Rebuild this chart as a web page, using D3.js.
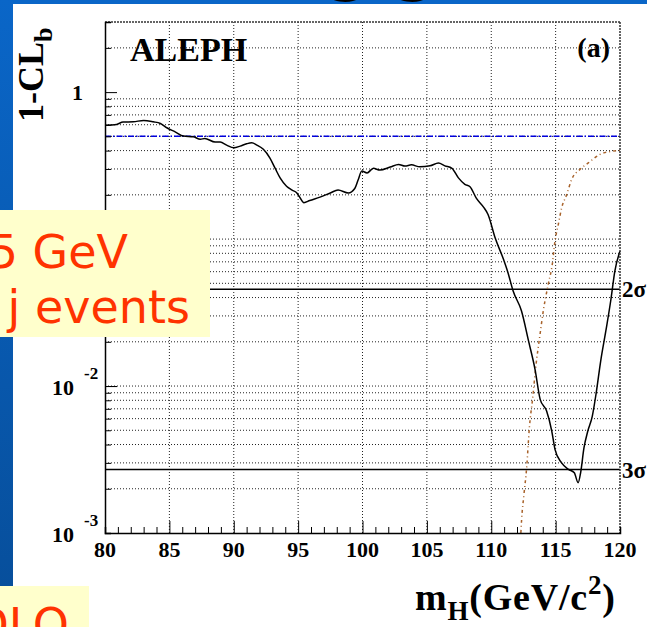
<!DOCTYPE html>
<html>
<head>
<meta charset="utf-8">
<script src="https://cdn.jsdelivr.net/npm/d3@7"></script>
<style>
  html, body { margin: 0; padding: 0; background: #ffffff; }
  svg { display: block; }
</style>
</head>
<body>
<svg id="chart" width="647" height="627"></svg>
<script>
// Observed 1-CL_b versus Higgs mass hypothesis (GeV/c^2)
const massObs = [80.0, 80.9, 81.4, 82.2, 83.0, 83.75, 84.3, 84.8, 85.45, 86.1,
  86.85, 87.4, 87.75, 88.55, 88.95, 89.45, 90.0, 90.5, 91.0, 91.4,
  91.8, 92.3, 92.8, 93.2, 93.6, 94.1, 94.5, 94.9, 95.15, 95.45,
  95.9, 96.7, 97.5, 98.1, 98.9, 99.4, 99.65, 99.95, 100.35, 100.85,
  101.35, 102.15, 102.8, 103.3, 103.8, 104.45, 105.25, 105.9, 106.4, 106.95,
  107.45, 107.95, 108.35, 108.85, 109.4, 109.75, 110.3, 110.95, 111.3, 111.7,
  112.35, 112.9, 113.4, 113.8, 114.3, 114.7, 114.95, 115.45, 116.0, 116.45,
  116.75, 116.95, 117.2, 117.5, 117.85, 118.15, 118.5, 118.9, 119.3, 119.6, 120.0];
const clbObs = [0.594, 0.603, 0.625, 0.628, 0.642, 0.628, 0.612, 0.572, 0.537, 0.502,
  0.497, 0.477, 0.484, 0.457, 0.457, 0.436, 0.418, 0.429, 0.445, 0.452,
  0.436, 0.408, 0.357, 0.305, 0.261, 0.229, 0.216, 0.206, 0.191, 0.177,
  0.183, 0.193, 0.206, 0.216, 0.206, 0.221, 0.251, 0.290, 0.282, 0.303,
  0.295, 0.309, 0.322, 0.314, 0.320, 0.310, 0.315, 0.329, 0.315, 0.303,
  0.261, 0.236, 0.227, 0.189, 0.165, 0.147, 0.102, 0.0728, 0.0590, 0.0443,
  0.0324, 0.0202, 0.0130, 0.00812, 0.00676, 0.00494, 0.00371, 0.00301, 0.00271, 0.00257,
  0.00220, 0.00260, 0.00379, 0.00494, 0.00625, 0.00896, 0.0148, 0.0237, 0.0391, 0.0606, 0.0828];

// Expected 1-CL_b for a signal at the tested mass
const massExp = [112.3, 112.36, 112.54, 112.75, 112.96, 113.22, 113.45, 113.79, 114.04, 114.43,
  114.74, 114.95, 115.21, 115.47, 115.86, 116.25, 116.89, 117.54, 118.45, 119.48, 120.0];
const clbExp = [0.001, 0.00124, 0.00183, 0.00278, 0.00520, 0.00832, 0.0133, 0.0225, 0.0324, 0.0494,
  0.0673, 0.0969, 0.126, 0.163, 0.201, 0.255, 0.298, 0.330, 0.377, 0.397, 0.400];

// Reference levels
const bkgMedian = 0.5;
const sigmaValues = [0.0455, 0.0027];
const sigmaLabels = ["2", "3"];

// Axis ticks
const xTicks = [80, 85, 90, 95, 100, 105, 110, 115, 120];
const xMinorTicks = d3.range(80, 121, 1);
const yMajor = [1, 0.01, 0.001];
const yMajorBase = ["1", "10", "10"];
const yMajorExp = ["", "-2", "-3"];
const yMinor = [2, 0.9, 0.8, 0.7, 0.6, 0.5, 0.4, 0.3, 0.2, 0.1,
  0.09, 0.08, 0.07, 0.06, 0.05, 0.04, 0.03, 0.02, 0.01,
  0.009, 0.008, 0.007, 0.006, 0.005, 0.004, 0.003, 0.002];

const svg = d3.select("#chart");
const serif = "'Liberation Serif', 'Times New Roman', serif";
const sans = "'DejaVu Sans', Verdana, sans-serif";

const plot = { left: 105, right: 620, top: 22, bottom: 533 };
const x = d3.scaleLinear().domain([80, 120]).range([plot.left, plot.right]);
const y = d3.scaleLog().domain([0.001, 3]).range([plot.bottom, plot.top]);

// Slide background strips
const defs = svg.append("defs");
const grad = defs.append("linearGradient").attr("id", "slideBlue")
  .attr("x1", 0).attr("y1", 0).attr("x2", 0).attr("y2", 1);
grad.append("stop").attr("offset", "0%").attr("stop-color", "#0a66c8");
grad.append("stop").attr("offset", "100%").attr("stop-color", "#074f9c");
svg.append("rect").attr("x", 0).attr("y", 0).attr("width", 647).attr("height", 4).attr("fill", "#0a66c8");
svg.append("rect").attr("x", 0).attr("y", 0).attr("width", 13).attr("height", 586).attr("fill", "url(#slideBlue)");
// Lower edge of the slide title
svg.append("text").attr("x", 348).attr("y", -10).attr("text-anchor", "middle")
  .attr("font-family", sans).attr("font-weight", "bold").attr("font-size", 56).attr("fill", "#000").text("g");
svg.append("text").attr("x", 415).attr("y", -10).attr("text-anchor", "middle")
  .attr("font-family", sans).attr("font-weight", "bold").attr("font-size", 56).attr("fill", "#000").text("g");

const g = svg.append("g");

// Grid: vertical at major mass ticks, horizontal at every log step
g.append("g").selectAll("line").data(xTicks.slice(1, -1)).join("line")
  .attr("x1", d => x(d)).attr("x2", d => x(d))
  .attr("y1", plot.top).attr("y2", plot.bottom)
  .attr("stroke", "#222").attr("stroke-width", 1).attr("stroke-dasharray", "1,2");
g.append("g").selectAll("line").data(yMinor).join("line")
  .attr("x1", plot.left).attr("x2", plot.right)
  .attr("y1", d => y(d)).attr("y2", d => y(d))
  .attr("stroke", "#222").attr("stroke-width", 1).attr("stroke-dasharray", "1,2");

// 2 sigma / 3 sigma levels
g.append("g").selectAll("line").data(sigmaValues).join("line")
  .attr("x1", plot.left).attr("x2", plot.right)
  .attr("y1", d => y(d)).attr("y2", d => y(d))
  .attr("stroke", "#000").attr("stroke-width", 1.5);

// Median background expectation
g.append("line")
  .attr("x1", plot.left).attr("x2", plot.right)
  .attr("y1", y(bkgMedian)).attr("y2", y(bkgMedian))
  .attr("stroke", "#0000dd").attr("stroke-width", 1.5).attr("stroke-dasharray", "6,2,1.5,2");

const line = d3.line().x(d => x(d[0])).y(d => y(d[1])).curve(d3.curveMonotoneX);

// Signal expectation
g.append("path").datum(d3.zip(massExp, clbExp))
  .attr("d", line).attr("fill", "none")
  .attr("stroke", "#a8622a").attr("stroke-width", 1.5).attr("stroke-dasharray", "3,3,1,3");

// Observed
g.append("path").datum(d3.zip(massObs, clbObs))
  .attr("d", line).attr("fill", "none")
  .attr("stroke", "#000").attr("stroke-width", 1.5).attr("stroke-linejoin", "round");

// Frame
g.append("line").attr("x1", plot.left).attr("x2", plot.right).attr("y1", plot.top).attr("y2", plot.top)
  .attr("stroke", "#333").attr("stroke-width", 1.5).attr("stroke-dasharray", "2,1");
g.append("line").attr("x1", plot.right).attr("x2", plot.right).attr("y1", plot.top).attr("y2", plot.bottom)
  .attr("stroke", "#333").attr("stroke-width", 1.5).attr("stroke-dasharray", "2,1");

// Bottom axis with inward ticks
const xAxis = d3.axisBottom(x).tickValues(xMinorTicks).tickSize(-6).tickFormat("");
const xa = g.append("g").attr("transform", `translate(0,${plot.bottom})`).call(xAxis);
xa.select(".domain").attr("stroke", "#000").attr("stroke-width", 1.5);
xa.selectAll(".tick line").attr("stroke", "#000").attr("stroke-width", 1)
  .attr("y2", d => (d % 5 === 0 ? -12 : -6));
xa.selectAll(".tick").filter(d => d === 80 || d === 120).remove();

g.append("g").selectAll("text").data(xTicks).join("text")
  .attr("x", d => x(d)).attr("y", 557)
  .attr("text-anchor", "middle")
  .attr("font-family", serif).attr("font-weight", "bold").attr("font-size", 22)
  .attr("fill", "#000").text(d => d);

// Left axis with inward ticks
const yAxis = d3.axisLeft(y).tickValues(yMinor.concat([1, 0.01])).tickSize(-6).tickFormat("");
const ya = g.append("g").attr("transform", `translate(${plot.left},0)`).call(yAxis);
ya.select(".domain").attr("stroke", "#000").attr("stroke-width", 1.5);
ya.selectAll(".tick line").attr("stroke", "#000").attr("stroke-width", 1)
  .attr("x2", d => (d === 1 || d === 0.01 ? 12 : 6));

// Decade labels
const yl = g.append("g").selectAll("text").data(yMajor).join("text")
  .attr("font-family", serif).attr("font-weight", "bold").attr("fill", "#000");
yl.each(function (d, i) {
  const t = d3.select(this);
  if (yMajorExp[i] === "") {
    t.attr("x", 83).attr("y", y(d) + 8).attr("text-anchor", "end").attr("font-size", 22).text(yMajorBase[i]);
  } else {
    t.attr("x", 52).attr("y", y(d) + 9).attr("font-size", 22);
    t.append("tspan").text(yMajorBase[i]);
    t.append("tspan").attr("x", 84).attr("dy", -16).attr("font-size", 17).text(yMajorExp[i]);
  }
});

// Sigma labels
g.append("g").selectAll("text").data(sigmaValues).join("text")
  .attr("x", 622).attr("y", d => y(d) + 8)
  .attr("font-family", serif).attr("font-weight", "bold").attr("font-size", 23).attr("fill", "#000")
  .text((d, i) => sigmaLabels[i] + "\u03c3");

// Experiment label and panel tag
g.append("text").attr("x", 130).attr("y", 61)
  .attr("font-family", serif).attr("font-weight", "bold").attr("font-size", 34).attr("fill", "#000")
  .text("ALEPH");
g.append("text").attr("x", 610).attr("y", 57).attr("text-anchor", "end")
  .attr("font-family", serif).attr("font-weight", "bold").attr("font-size", 28).attr("fill", "#000")
  .text("(a)");

// Axis titles
const yt = svg.append("text").attr("transform", "translate(43,122) rotate(-90)")
  .attr("font-family", serif).attr("font-weight", "bold").attr("font-size", 36).attr("fill", "#000");
yt.append("tspan").text("1-CL");
yt.append("tspan").attr("dy", 9).attr("font-size", 26).text("b");

const xt = svg.append("text").attr("x", 415).attr("y", 610)
  .attr("font-family", serif).attr("font-weight", "bold").attr("font-size", 38)
  .attr("letter-spacing", 0.8).attr("fill", "#000");
xt.append("tspan").text("m");
xt.append("tspan").attr("dy", 10).attr("font-size", 27).text("H");
xt.append("tspan").attr("dy", -10).text("(GeV/c");
xt.append("tspan").attr("dy", -16).attr("font-size", 27).text("2");
xt.append("tspan").attr("dy", 16).text(")");

// Slide annotation boxes
svg.append("rect").attr("x", 0).attr("y", 210).attr("width", 210).attr("height", 127).attr("fill", "#ffffcc");
svg.append("text").attr("x", 128).attr("y", 268).attr("text-anchor", "end")
  .attr("font-family", sans).attr("font-size", 46).attr("fill", "#ff3300").text("5 GeV");
svg.append("text").attr("x", 190).attr("y", 323).attr("text-anchor", "end")
  .attr("font-family", sans).attr("font-size", 46).attr("fill", "#ff3300").text("j events");

svg.append("rect").attr("x", 0).attr("y", 586).attr("width", 89).attr("height", 41).attr("fill", "#ffffcc");
svg.append("text").attr("x", 69).attr("y", 641).attr("text-anchor", "end")
  .attr("font-family", sans).attr("font-size", 46).attr("fill", "#ff3300").text("DLO");
</script>
</body>
</html>
